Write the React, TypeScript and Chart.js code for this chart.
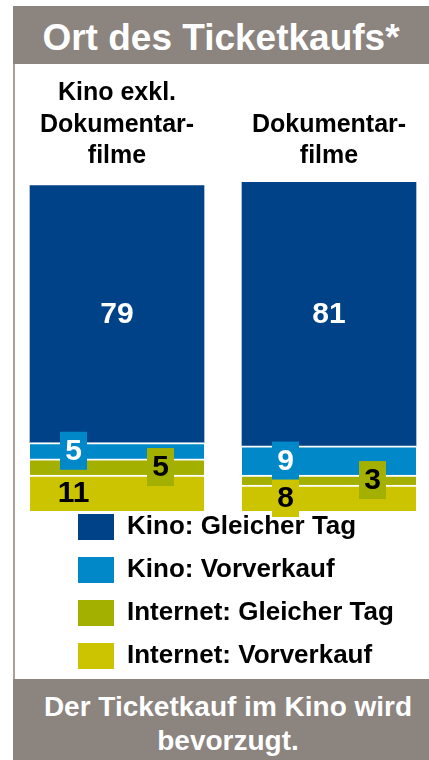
import React, { useEffect, useRef } from 'react';
import { Chart, registerables } from 'chart.js';

Chart.register(...registerables);

// ---- data ----
const categories: string[][] = [
  ['Kino exkl.', 'Dokumentar-', 'filme'],
  ['Dokumentar-', 'filme'],
];
// stacked from bottom to top
const internetVorverkauf = [11, 8];
const internetGleicherTag = [5, 3];
const kinoVorverkauf = [5, 9];
const kinoGleicherTag = [79, 81];
const seriesNames = ['Internet: Vorverkauf', 'Internet: Gleicher Tag', 'Kino: Vorverkauf', 'Kino: Gleicher Tag'];
const seriesValues = [internetVorverkauf, internetGleicherTag, kinoVorverkauf, kinoGleicherTag];
const titleText = 'Ort des Ticketkaufs*';
const footerLines = ['Der Ticketkauf im Kino wird', 'bevorzugt.'];

// ---- styles ----
const FONT = '"Liberation Sans", Arial, Helvetica, sans-serif';
const GRAY = '#8C847F';
const COLORS: Record<string, string> = {
  'Kino: Gleicher Tag': '#004287',
  'Kino: Vorverkauf': '#0088C8',
  'Internet: Gleicher Tag': '#A3B000',
  'Internet: Vorverkauf': '#CDC400',
};
const LABEL_STYLE: Record<string, { dx: number; color: string }> = {
  'Kino: Gleicher Tag': { dx: 0, color: '#ffffff' },
  'Kino: Vorverkauf': { dx: -0.25, color: '#ffffff' },
  'Internet: Gleicher Tag': { dx: 0.25, color: '#000000' },
  'Internet: Vorverkauf': { dx: -0.25, color: '#000000' },
};
const LEGEND_SHIFT = 14;

const segmentLabels = {
  id: 'segmentLabels',
  afterDatasetsDraw(chart: any) {
    const ctx = chart.ctx;
    chart.data.datasets.forEach((ds: any, di: number) => {
      const meta = chart.getDatasetMeta(di);
      if (meta.hidden) return;
      const st = LABEL_STYLE[ds.label];
      meta.data.forEach((bar: any, i: number) => {
        const v = ds.data[i].y;
        const { x, y, base, width } = bar.getProps(['x', 'y', 'base', 'width'], true);
        const cx = x + st.dx * width;
        const cy = (y + base) / 2;
        ctx.save();
        if (v < 10) {
          ctx.fillStyle = ds.backgroundColor;
          ctx.fillRect(cx - 13.5, cy - 19, 27, 38);
        }
        ctx.fillStyle = st.color;
        ctx.font = `bold 30px ${FONT}`;
        ctx.textAlign = 'center';
        ctx.textBaseline = 'middle';
        ctx.fillText(String(v), cx, cy + 1);
        ctx.restore();
      });
    });
  },
};

const legendShift = {
  id: 'legendShift',
  afterLayout(chart: any) {
    const l = chart.legend;
    if (l) {
      l.top -= LEGEND_SHIFT;
      l.bottom -= LEGEND_SHIFT;
    }
  },
};

function ChartCanvas() {
  const ref = useRef<HTMLCanvasElement | null>(null);
  useEffect(() => {
    if (!ref.current) return;
    const datasets = seriesNames.map((name, si) => ({
      label: name,
      data: seriesValues[si].map((v, i) => ({ x: i, y: v })),
      backgroundColor: COLORS[name],
      borderColor: '#ffffff',
      borderWidth: name === 'Kino: Gleicher Tag' ? 0 : { top: 2, bottom: 0, left: 0, right: 0 },
      borderSkipped: false,
      barThickness: 174,
      clip: false,
    }));
    const chart = new Chart(ref.current, {
      type: 'bar',
      data: { datasets },
      plugins: [segmentLabels, legendShift],
      options: {
        animation: false,
        responsive: false,
        maintainAspectRatio: false,
        layout: { padding: { top: 0, left: 46, right: 0, bottom: -LEGEND_SHIFT } },
        scales: {
          x: {
            type: 'linear',
            position: 'top',
            stacked: true,
            offset: false,
            min: -0.2642,
            max: 1.4717,
            grid: { display: false, drawTicks: false },
            border: { display: false },
            afterBuildTicks: (axis: any) => {
              axis.ticks = categories.map((_, i) => ({ value: i }));
            },
            ticks: {
              autoSkip: false,
              maxRotation: 0,
              minRotation: 0,
              padding: 13.5,
              color: '#000000',
              font: { family: FONT, size: 25, weight: 'bold', lineHeight: 1.26 },
              callback: (value: any) => categories[value as number],
            },
          },
          y: {
            display: false,
            stacked: true,
            min: 0,
            max: 100,
          },
        },
        plugins: {
          tooltip: { enabled: false },
          legend: {
            position: 'bottom',
            align: 'start',
            reverse: true,
            labels: {
              boxWidth: 36,
              boxHeight: 26,
              padding: 17,
              color: '#000000',
              font: { family: FONT, size: 26, weight: 'bold' },
              generateLabels: (c: any) =>
                (Chart.defaults.plugins.legend.labels as any)
                  .generateLabels(c)
                  .map((l: any) => ({ ...l, lineWidth: 0 })),
            },
          },
        },
      } as any,
    });
    return () => chart.destroy();
  }, []);
  return (
    <canvas
      ref={ref}
      width={414}
      height={615}
      style={{ position: 'absolute', left: 15, top: 64, width: 414, height: 615 }}
    />
  );
}

export default function App() {
  return (
    <div
      style={{
        position: 'absolute',
        left: 0,
        top: 0,
        width: 429,
        height: 760,
        overflow: 'hidden',
        background: '#ffffff',
        fontFamily: FONT,
      }}
    >
      <div
        style={{
          position: 'absolute',
          left: 13,
          top: 6,
          width: 416,
          height: 58,
          boxSizing: 'border-box',
          paddingTop: 5,
          background: GRAY,
          color: '#ffffff',
          fontWeight: 'bold',
          fontSize: 37,
          lineHeight: '53px',
          textAlign: 'center',
          whiteSpace: 'nowrap',
        }}
      >
        {titleText}
      </div>
      <div style={{ position: 'absolute', left: 13, top: 64, width: 2, height: 615, background: '#A9A19C' }} />
      <ChartCanvas />
      <div
        style={{
          position: 'absolute',
          left: 13,
          top: 679,
          width: 416,
          height: 81,
          boxSizing: 'border-box',
          paddingTop: 11,
          paddingLeft: 14,
          background: GRAY,
          color: '#ffffff',
          fontWeight: 'bold',
          fontSize: 28,
          lineHeight: '34px',
          textAlign: 'center',
          whiteSpace: 'nowrap',
        }}
      >
        {footerLines.map((t, i) => (
          <div key={i}>{t}</div>
        ))}
      </div>
    </div>
  );
}
